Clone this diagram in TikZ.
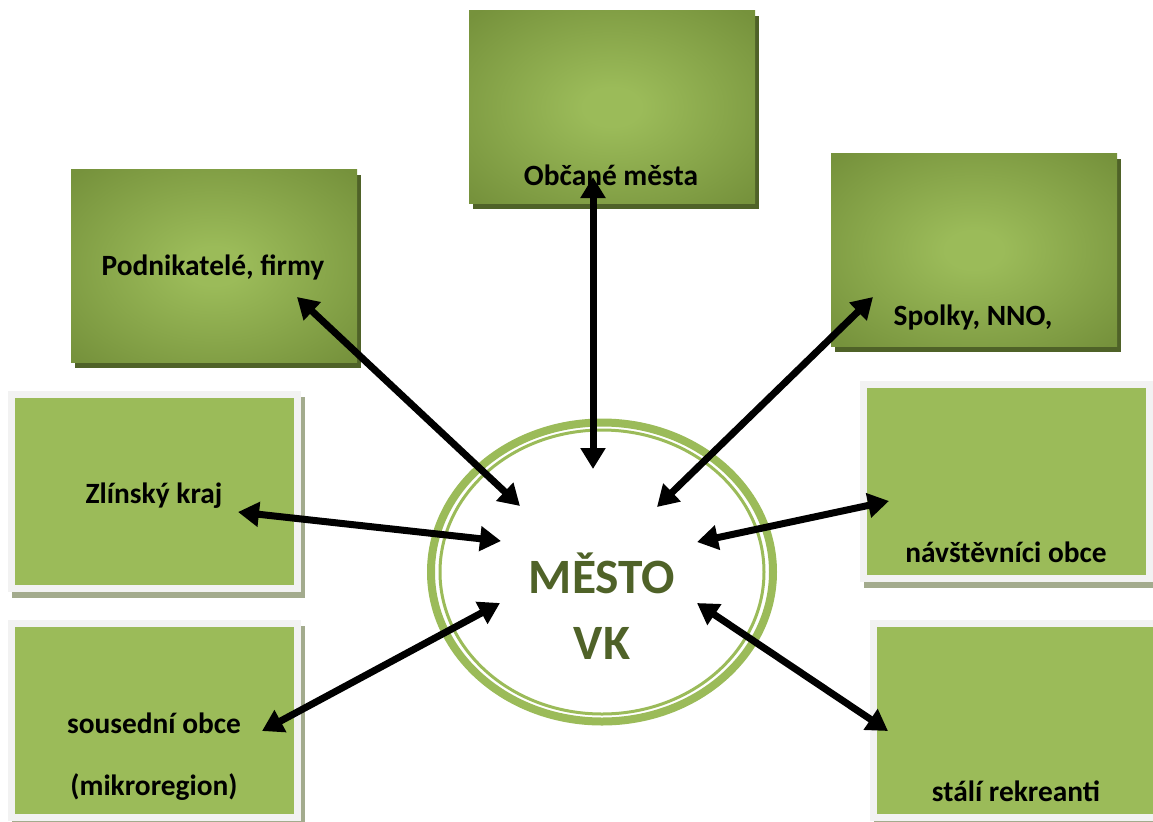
\documentclass[tikz,border=0pt]{standalone}
\usepackage{fontspec}
\setmainfont{Carlito}
\usepackage{tikz}
\usetikzlibrary{arrows.meta,shapes.geometric,shadows}
\definecolor{boxgreen}{HTML}{9BBB59}
\definecolor{glowin}{HTML}{9BBB59}
\definecolor{glowout}{HTML}{76923C}
\definecolor{shadowdark}{HTML}{4F6228}
\definecolor{shadowlight}{HTML}{A3AB8D}
\definecolor{framegray}{HTML}{F2F2F2}
\definecolor{mestogreen}{HTML}{4F6228}
\pgfdeclareradialshading{boxglow}{\pgfpoint{0bp}{0bp}}{color(0bp)=(glowin); color(5bp)=(glowin); color(34bp)=(glowout); color(50bp)=(glowout)}

\begin{document}
\begin{tikzpicture}
      [x=0.5pt,y=-0.5pt,>={Triangle[length=10.5pt,width=12pt]},
      darkbox/.style={rectangle,inner sep=0pt,minimum width=143pt,minimum height=96.5pt,
        shade,shading=boxglow,
        drop shadow={shadow xshift=2pt,shadow yshift=-2.5pt,fill=shadowdark,opacity=1}},
      lightbox/.style={rectangle,inner sep=0pt,minimum width=143pt,minimum height=97pt,
        fill=boxgreen,draw=framegray,line width=3.5pt,
        drop shadow={shadow xshift=2pt,shadow yshift=-3pt,fill=shadowlight,
          draw=shadowlight,line width=3.5pt,opacity=1}},
      boxtext/.style={anchor=base,inner sep=0pt,font=\bfseries\fontsize{14.7}{17}\selectfont},
      mestotext/.style={anchor=base,inner sep=0pt,text=mestogreen,
        font=\bfseries\fontsize{24.7}{29}\selectfont},
      link/.style={<->,line width=3.5pt}]
      \path[use as bounding box,fill=white] (0,0) rectangle (1153,821);

      \node[darkbox] (obcane) at (612,107) {};
      \node[darkbox] (podnik) at (214,266) {};
      \node[darkbox] (spolky) at (974,250) {};
      \node[lightbox] (zlin) at (154,491) {};
      \node[lightbox] (soused) at (154,720) {};
      \node[lightbox] (navst) at (1006,481) {};
      \node[lightbox] (stali) at (1016,720) {};
      \node[ellipse,inner sep=0pt,draw=boxgreen,line width=4pt,
        minimum width=171pt,minimum height=149.5pt] (mesto) at (602,572) {};
      \draw[boxgreen,line width=1.5pt] (mesto.center) ellipse [x radius=81pt,y radius=71pt];

      \node[boxtext] (obcaneT) at (611,185) {Občané města};
      \node[boxtext] (podnikT) at (213,275) {Podnikatelé, firmy};
      \node[boxtext] (spolkyT) at (973,325) {Spolky, NNO,};
      \node[boxtext] (zlinT) at (154,503) {Zlínský kraj};
      \node[boxtext] (sousedT) at (154,733) {sousední obce};
      \node[boxtext] (mikroT) at (154,795) {(mikroregion)};
      \node[boxtext] (navstT) at (1006,562) {návštěvníci obce};
      \node[boxtext] (staliT) at (1016,801) {stálí rekreanti};
      \node[mestotext] (mestoT1) at (602,593) {MĚSTO};
      \node[mestotext] (mestoT2) at (602,659) {VK};

      \coordinate (obcaneTip) at (593,177);
      \coordinate (podnikTip) at (297,297);
      \coordinate (spolkyTip) at (873,297);
      \coordinate (zlinTip) at (238,512);
      \coordinate (sousedTip) at (262,731);
      \coordinate (navstTip) at (889,501);
      \coordinate (staliTip) at (888,731);
      \coordinate (mestoN) at (593,469);
      \coordinate (mestoNW) at (520,506);
      \coordinate (mestoNE) at (657,507);
      \coordinate (mestoW) at (501,541);
      \coordinate (mestoSW) at (500,603);
      \coordinate (mestoE) at (697,542);
      \coordinate (mestoSE) at (697,603);

      \draw[link] (obcaneTip) -- (mestoN);
      \draw[link] (podnikTip) -- (mestoNW);
      \draw[link] (spolkyTip) -- (mestoNE);
      \draw[link] (zlinTip) -- (mestoW);
      \draw[link] (sousedTip) -- (mestoSW);
      \draw[link] (navstTip) -- (mestoE);
      \draw[link] (staliTip) -- (mestoSE);
\end{tikzpicture}
\end{document}
